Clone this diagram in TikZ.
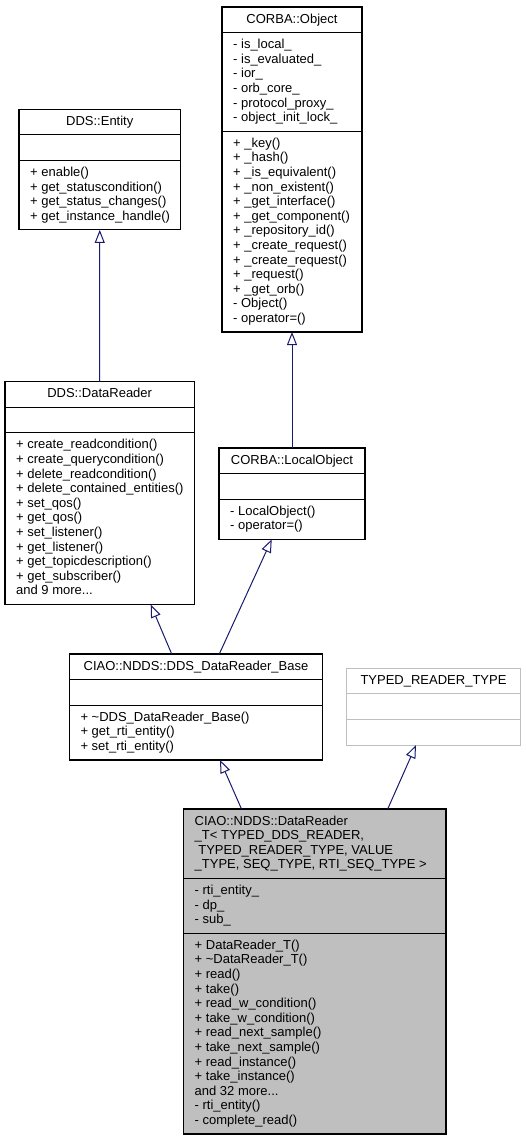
\documentclass[tikz,border=0pt]{standalone}
\usepackage{fontspec}
\setmainfont{Liberation Sans}
\usetikzlibrary{arrows.meta,calc}
\definecolor{edgeblue}{HTML}{191970}
\definecolor{boxgray}{HTML}{BFBFBF}
\definecolor{lightborder}{HTML}{BFBFBF}
\newcommand{\mydots}{...}
\begin{document}
\begin{tikzpicture}[x=1pt,y=-1pt,
  cls/.style={draw=black, line width=1.1pt, inner sep=0pt, outer sep=0pt, anchor=north west},
  sepline/.style={draw=black, line width=1.1pt},
  txt/.style={anchor=base west, inner sep=0pt, font=\fontsize{13}{14.6}\selectfont},
  ttl/.style={anchor=base, inner sep=0pt, font=\fontsize{13}{14.6}\selectfont},
  inh/.style={draw=edgeblue, line width=1pt, -{Triangle[open, length=13pt, width=10pt, line width=1pt]}}]
\useasboundingbox (0,0) rectangle (525,1141);

% ---------- CORBA::Object ----------
\node[cls, minimum width=140pt, minimum height=325pt] (obj) at (222,7) {};
\draw[sepline] ([yshift=-25.6pt]obj.north west) -- ([yshift=-25.6pt]obj.north east);
\draw[sepline] ([yshift=-124.2pt]obj.north west) -- ([yshift=-124.2pt]obj.north east);
\node[ttl] (obj-t) at ($(obj.north)+(0,16)$) {CORBA::Object};
\foreach \s [count=\i from 0] in {- is\_local\_, - is\_evaluated\_, - ior\_, - orb\_core\_, - protocol\_proxy\_, - object\_init\_lock\_}
  \node[txt] (obj-a\i) at ($(obj.north west)+(11,{41.6+\i*14.6})$) {\s};
\foreach \s [count=\i from 0] in {+ \_key(), + \_hash(), + \_is\_equivalent(), + \_non\_existent(), + \_get\_interface(), + \_get\_component(), + \_repository\_id(), + \_create\_request(), + \_create\_request(), + \_request(), + \_get\_orb(), - Object(), - operator=()}
  \node[txt] (obj-m\i) at ($(obj.north west)+(11,{140.2+\i*14.6})$) {\s};

% ---------- DDS::Entity ----------
\node[cls, minimum width=161.5pt, minimum height=120.6pt] (ent) at (19,109.3) {};
\draw[sepline] ([yshift=-25.6pt]ent.north west) -- ([yshift=-25.6pt]ent.north east);
\draw[sepline] ([yshift=-51.2pt]ent.north west) -- ([yshift=-51.2pt]ent.north east);
\node[ttl] (ent-t) at ($(ent.north)+(0,16)$) {DDS::Entity};
\foreach \s [count=\i from 0] in {+ enable(), + get\_statuscondition(), + get\_status\_changes(), + get\_instance\_handle()}
  \node[txt] (ent-m\i) at ($(ent.north west)+(11,{67.2+\i*14.6})$) {\s};

% ---------- DDS::DataReader ----------
\node[cls, minimum width=189.3pt, minimum height=222.8pt] (dr) at (5,381.7) {};
\draw[sepline] ([yshift=-25.6pt]dr.north west) -- ([yshift=-25.6pt]dr.north east);
\draw[sepline] ([yshift=-51.2pt]dr.north west) -- ([yshift=-51.2pt]dr.north east);
\node[ttl] (dr-t) at ($(dr.north)+(0,16)$) {DDS::DataReader};
\foreach \s [count=\i from 0] in {+ create\_readcondition(), + create\_querycondition(), + delete\_readcondition(), + delete\_contained\_entities(), + set\_qos(), + get\_qos(), + set\_listener(), + get\_listener(), + get\_topicdescription(), + get\_subscriber(), and 9 more\mydots}
  \node[txt] (dr-m\i) at ($(dr.north west)+(11,{67.2+\i*14.6})$) {\s};

% ---------- CORBA::LocalObject ----------
\node[cls, minimum width=146pt, minimum height=91.4pt] (lo) at (219,448) {};
\draw[sepline] ([yshift=-25.6pt]lo.north west) -- ([yshift=-25.6pt]lo.north east);
\draw[sepline] ([yshift=-51.2pt]lo.north west) -- ([yshift=-51.2pt]lo.north east);
\node[ttl] (lo-t) at ($(lo.north)+(0,16)$) {CORBA::LocalObject};
\foreach \s [count=\i from 0] in {- LocalObject(), - operator=()}
  \node[txt] (lo-m\i) at ($(lo.north west)+(11,{67.2+\i*14.6})$) {\s};

% ---------- CIAO::NDDS::DDS_DataReader_Base ----------
\node[cls, minimum width=253.4pt, minimum height=106pt] (base) at (69.3,654) {};
\draw[sepline] ([yshift=-25.6pt]base.north west) -- ([yshift=-25.6pt]base.north east);
\draw[sepline] ([yshift=-51.2pt]base.north west) -- ([yshift=-51.2pt]base.north east);
\node[ttl] (base-t) at ($(base.north)+(0,16)$) {CIAO::NDDS::DDS\_DataReader\_Base};
\foreach \s [count=\i from 0] in {+ \textasciitilde{}DDS\_DataReader\_Base(), + get\_rti\_entity(), + set\_rti\_entity()}
  \node[txt] (base-m\i) at ($(base.north west)+(11,{67.2+\i*14.6})$) {\s};

% ---------- TYPED_READER_TYPE ----------
\node[cls, draw=lightborder, minimum width=174pt, minimum height=76.8pt] (trt) at (346.5,668.3) {};
\draw[sepline, draw=lightborder] ([yshift=-25.6pt]trt.north west) -- ([yshift=-25.6pt]trt.north east);
\draw[sepline, draw=lightborder] ([yshift=-51.2pt]trt.north west) -- ([yshift=-51.2pt]trt.north east);
\node[ttl] (trt-t) at ($(trt.north)+(0,16)$) {TYPED\_READER\_TYPE};

% ---------- CIAO::NDDS::DataReader_T ----------
\node[cls, fill=boxgray, minimum width=262.5pt, minimum height=325pt] (drt) at (183.5,809) {};
\draw[sepline] ([yshift=-69.4pt]drt.north west) -- ([yshift=-69.4pt]drt.north east);
\draw[sepline] ([yshift=-124.2pt]drt.north west) -- ([yshift=-124.2pt]drt.north east);
\foreach \s [count=\i from 0] in {CIAO::NDDS::DataReader, {\_T< TYPED\_DDS\_READER,}, {\ TYPED\_READER\_TYPE, VALUE}, {\_TYPE, SEQ\_TYPE, RTI\_SEQ\_TYPE >}}
  \node[txt] (drt-t\i) at ($(drt.north west)+(11,{16+\i*14.6})$) {\s};
\foreach \s [count=\i from 0] in {- rti\_entity\_, - dp\_, - sub\_}
  \node[txt] (drt-a\i) at ($(drt.north west)+(11,{85.4+\i*14.6})$) {\s};
\foreach \s [count=\i from 0] in {+ DataReader\_T(), + \textasciitilde{}DataReader\_T(), + read(), + take(), + read\_w\_condition(), + take\_w\_condition(), + read\_next\_sample(), + take\_next\_sample(), + read\_instance(), + take\_instance(), and 32 more\mydots, - rti\_entity(), - complete\_read()}
  \node[txt] (drt-m\i) at ($(drt.north west)+(11,{140.2+\i*14.6})$) {\s};

% ---------- inheritance edges ----------
\draw[inh] (dr.north) -- (ent.south);
\draw[inh] (lo.north) -- (obj.south);
\draw[inh] ([xshift=102.4pt]base.north west) -- ([xshift=145.7pt]dr.south west);
\draw[inh] ([xshift=150pt]base.north west) -- ([xshift=52.7pt]lo.south west);
\draw[inh] ([xshift=58pt]drt.north west) -- ([xshift=150.7pt]base.south west);
\draw[inh] ([xshift=204.2pt]drt.north west) -- ([xshift=69.5pt]trt.south west);
\end{tikzpicture}
\end{document}
